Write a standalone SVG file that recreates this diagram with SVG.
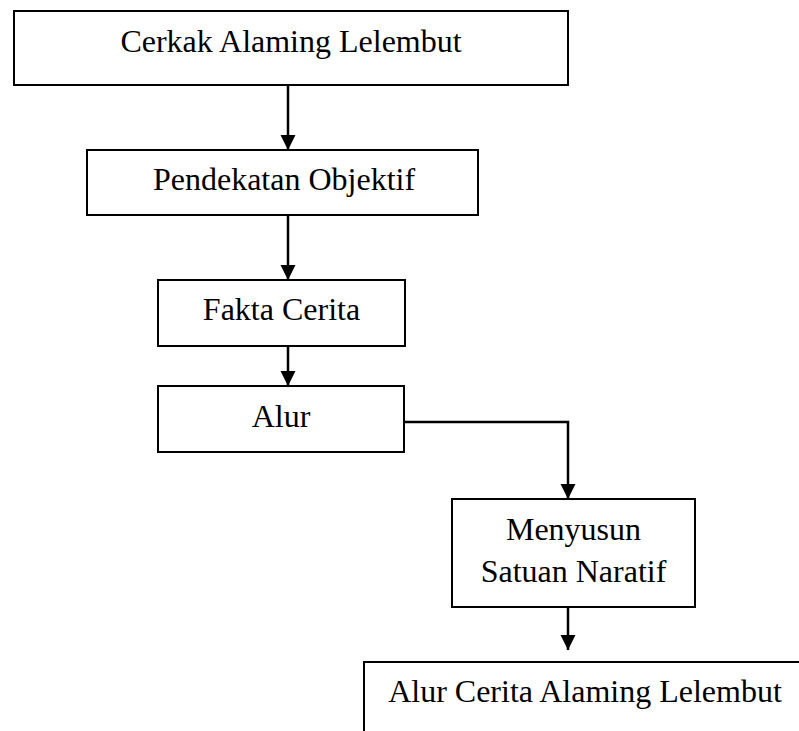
<svg xmlns="http://www.w3.org/2000/svg" width="799" height="731" viewBox="0 0 799 731">
<style>
.box{fill:#fff;stroke:#000;stroke-width:2}
.lbl{font-family:"Liberation Serif","Times New Roman",serif;font-size:32px;fill:#000;text-anchor:middle}
.con{fill:none;stroke:#000;stroke-width:2.5}
</style>
<defs>
<marker id="arr" markerUnits="userSpaceOnUse" markerWidth="16" markerHeight="16" viewBox="0 0 16 16" refX="15" refY="8" orient="auto">
<path d="M0,0.5 L15,8 L0,15.5 Z" fill="#000"/>
</marker>
</defs>
<rect width="799" height="731" fill="#fff"/>
<g id="connectors">
<line class="con" x1="288" y1="85" x2="288" y2="150" marker-end="url(#arr)"/>
<line class="con" x1="288" y1="215" x2="288" y2="280" marker-end="url(#arr)"/>
<line class="con" x1="288" y1="346" x2="288" y2="386" marker-end="url(#arr)"/>
<polyline class="con" points="404,422 568,422 568,499" marker-end="url(#arr)"/>
<line class="con" x1="568" y1="607" x2="568" y2="650" marker-end="url(#arr)"/>
</g>
<g id="n1">
<rect class="box" x="14" y="11" width="554" height="74"/>
<text class="lbl" x="291" y="52">Cerkak Alaming Lelembut</text>
</g>
<g id="n2">
<rect class="box" x="87" y="150" width="391" height="65"/>
<text class="lbl" x="284" y="190">Pendekatan Objektif</text>
</g>
<g id="n3">
<rect class="box" x="158" y="280" width="247" height="66"/>
<text class="lbl" x="281.5" y="320">Fakta Cerita</text>
</g>
<g id="n4">
<rect class="box" x="158" y="386" width="246" height="66"/>
<text class="lbl" x="281" y="427">Alur</text>
</g>
<g id="n5">
<rect class="box" x="452" y="499" width="243" height="108"/>
<text class="lbl" x="573.5" y="540">Menyusun</text>
<text class="lbl" x="573.5" y="582">Satuan Naratif</text>
</g>
<g id="n6">
<rect class="box" x="364" y="662" width="500" height="120"/>
<text class="lbl" x="585" y="702">Alur Cerita Alaming Lelembut</text>
</g>
</svg>
